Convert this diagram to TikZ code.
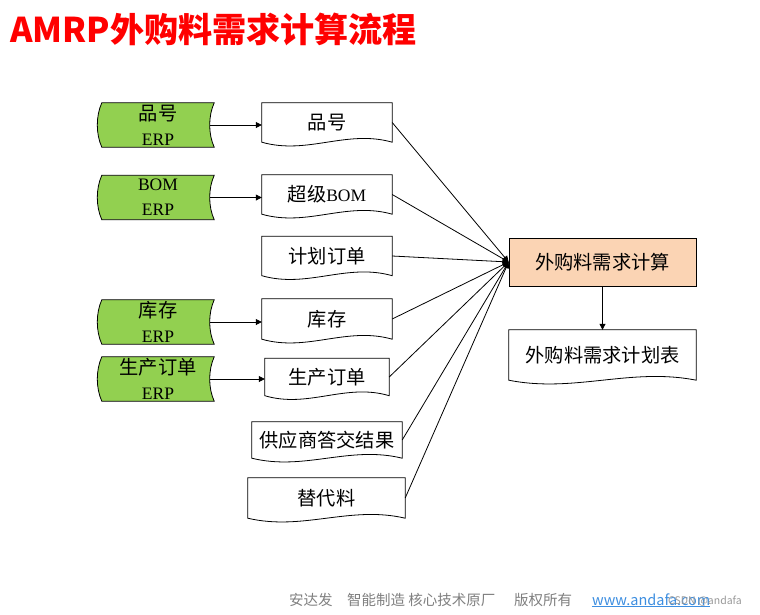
\documentclass[tikz,border=0pt]{standalone}
\usepackage{fontspec}
\setmainfont{Liberation Serif}
\newfontfamily\cjk[Scale=1.1]{Noto Sans CJK SC}
\newfontfamily\footfont{Noto Sans CJK SC}
\usetikzlibrary{calc,arrows.meta,backgrounds}
\definecolor{tapegreen}{HTML}{92D050}
\definecolor{calcpeach}{HTML}{FBD4B4}
\definecolor{footgray}{HTML}{7F7F7F}
\definecolor{linkblue}{HTML}{3D8EE0}
\newcommand{\docshape}[1]% node name
{(#1.north west) -- (#1.north east) -- (#1.south east)
 .. controls ($(#1.south east)!0.35!(#1.south west)+(0,-13)$) and ($(#1.south east)!0.65!(#1.south west)+(0,13)$) .. (#1.south west) -- cycle
}
\newcommand{\tapeshape}[1]% node name
{(#1.north west) -- (#1.north east)
 .. controls ($(#1.north east)!0.3!(#1.south east)+(-6,0)$) and ($(#1.north east)!0.7!(#1.south east)+(-6,0)$) .. (#1.south east)
 -- (#1.south west)
 .. controls ($(#1.south west)!0.3!(#1.north west)+(-6,0)$) and ($(#1.south west)!0.7!(#1.north west)+(-6,0)$) .. (#1.north west) -- cycle
}

\begin{document}
\begin{tikzpicture}[x=1pt,y=-1pt,
  every node/.style={inner sep=0pt},
  tape/.style={minimum width=112pt,minimum height=44pt,align=center,font=\fontsize{17.5}{25}\selectfont},
  doc/.style={minimum height=39pt,font=\fontsize{17.5}{20}\selectfont},
  link/.style={line width=0.8pt,-{Triangle[length=6pt,width=6pt]}},
  shapeline/.style={line width=0.8pt}]
  \useasboundingbox (0,0) rectangle (760,614);
  \node[anchor=west,text=red,font=\cjk\bfseries\fontsize{31}{32}\selectfont] (title) at (10,29) {AMRP外购料需求计算流程};

  \node[tape] (g1) at (158,125) {{\cjk 品号}\\ERP};
  \node[tape] (g2) at (158,197.5) {BOM\\ERP};
  \node[tape] (g3) at (158,322) {{\cjk 库存}\\ERP};
  \node[tape] (g4) at (158,379) {{\cjk 生产订单}\\ERP};

  \node[doc,minimum width=130pt] (d1) at (327,122.5) {\cjk 品号};
  \node[doc,minimum width=130pt] (d2) at (327,194.5) {{\cjk 超级}BOM};
  \node[doc,minimum width=130pt] (d3) at (327,256) {\cjk 计划订单};
  \node[doc,minimum width=130pt,minimum height=40pt] (d4) at (327,319) {\cjk 库存};
  \node[doc,minimum width=124pt,minimum height=37pt] (d5) at (327,377) {\cjk 生产订单};
  \node[doc,minimum width=150pt,minimum height=36pt] (d6) at (327,440) {\cjk 供应商答交结果};
  \node[doc,minimum width=157pt,minimum height=40pt] (d7) at (326.5,498) {\cjk 替代料};

  \node[doc,draw,fill=calcpeach,line width=0.8pt,minimum width=187pt,minimum height=48pt] (amrp) at (602.5,262) {\cjk 外购料需求计算};
  \node[doc,minimum width=187pt,minimum height=50pt] (plan) at (602.5,355) {\cjk 外购料需求计划表};

  \begin{pgfonlayer}{background}
    \filldraw[shapeline,fill=tapegreen] \tapeshape{g1};
    \filldraw[shapeline,fill=tapegreen] \tapeshape{g2};
    \filldraw[shapeline,fill=tapegreen] \tapeshape{g3};
    \filldraw[shapeline,fill=tapegreen] \tapeshape{g4};
    \filldraw[shapeline,fill=white] \docshape{d1};
    \filldraw[shapeline,fill=white] \docshape{d2};
    \filldraw[shapeline,fill=white] \docshape{d3};
    \filldraw[shapeline,fill=white] \docshape{d4};
    \filldraw[shapeline,fill=white] \docshape{d5};
    \filldraw[shapeline,fill=white] \docshape{d6};
    \filldraw[shapeline,fill=white] \docshape{d7};
    \filldraw[shapeline,fill=white] \docshape{plan};
  \end{pgfonlayer}

  \draw[link,shorten <=-4.5pt] (g1.east) -- (g1.east -| d1.west);
  \draw[link,shorten <=-4.5pt] (g2.east) -- (g2.east -| d2.west);
  \draw[link,shorten <=-4.5pt] (g3.east) -- (g3.east -| d4.west);
  \draw[link,shorten <=-4.5pt] (g4.east) -- (g4.east -| d5.west);

  \draw[link] (d1.east) -- (amrp.west);
  \draw[link] (d2.east) -- (amrp.west);
  \draw[link] (d3.east) -- (amrp.west);
  \draw[link] (d4.east) -- (amrp.west);
  \draw[link] (d5.east) -- (amrp.west);
  \draw[link] (d6.east) -- (amrp.west);
  \draw[link] (d7.east) -- (amrp.west);
  \draw[link] (amrp.south) -- (plan.north);

  \node[anchor=base west,text=footgray,font=\footfont\fontsize{14.5}{15}\selectfont] (foot1) at (289,605) {安达发};
  \node[anchor=base west,text=footgray,font=\footfont\fontsize{14.5}{15}\selectfont] (foot2) at (347,605) {智能制造 核心技术原厂};
  \node[anchor=base west,text=footgray,font=\footfont\fontsize{14.5}{15}\selectfont] (foot3) at (514,605) {版权所有};
  \node[anchor=base west,text=linkblue,font=\footfont\fontsize{14.5}{15}\selectfont] (web) at (592,605) {\underline{www.andafa.com}};
  \node[anchor=base west,text=footgray!80,font=\footfont\fontsize{10.5}{11}\selectfont] (mark) at (668,604) {CSDN @andafa};
\end{tikzpicture}
\end{document}
